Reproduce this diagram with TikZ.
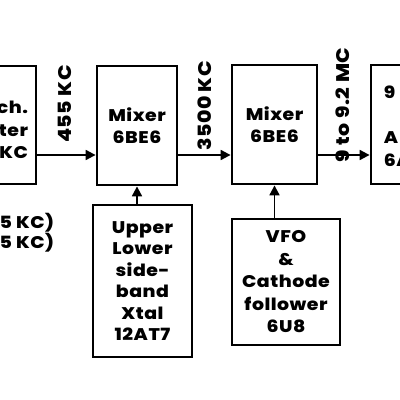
\documentclass[tikz,border=0pt]{standalone}
\usepackage{fontspec}
\setmainfont{Poppins}[BoldFont={Poppins ExtraBold},BoldFeatures={FakeStretch=1.12,LetterSpace=3}]
\usepackage{tikz}
\usetikzlibrary{arrows.meta,positioning}

\begin{document}
\begin{tikzpicture}[x=0.025cm,y=-0.025cm,->,>={Triangle[length=7pt,width=7pt]},line width=1.4pt,
  stage/.style={draw,-,rectangle,line width=2pt,align=center,inner sep=0pt,
    font=\bfseries\fontsize{12}{16}\selectfont},
  freq/.style={rotate=90,inner sep=0pt,font=\bfseries\fontsize{13}{16}\selectfont}]
  \useasboundingbox (0,0) rectangle (400,400);
  % upper chain
  \node[stage,minimum width=1.9cm,minimum height=2.95cm] (filt) at (-2,125) {};
  \node[stage,minimum width=2cm,minimum height=2.975cm] (mixA) at (137,125.5) {Mixer\\6BE6};
  \node[stage,minimum width=2.125cm,minimum height=2.975cm] (mixB) at (274.5,124.5) {Mixer\\6BE6};
  \node[stage,minimum width=1.975cm,minimum height=2.975cm] (amp) at (410.5,124.5) {};
  \node[align=right,anchor=east,inner sep=0pt,font=\bfseries\fontsize{12}{16}\selectfont] (filttxt) at (29,130) {ch.\\ter\\KC};
  \node[align=left,anchor=west,inner sep=0pt,font=\bfseries\fontsize{12}{16}\selectfont] (amptxt) at (383,126) {9\\ \\A\\6A};
  % oscillators
  \node[stage,minimum width=2.475cm,minimum height=3.8cm,font=\bfseries\fontsize{12}{15.3}\selectfont] (xtal) at (142.5,281) {Upper\\Lower\\side-\\band\\Xtal\\12AT7};
  \node[stage,minimum width=2.7cm,minimum height=3.15cm] (vfo) at (286,282) {VFO\\\&\\Cathode\\follower\\6U8};
  \node[align=right,anchor=east,inner sep=0pt,font=\bfseries\fontsize{12}{13}\selectfont] (side) at (55,233) {5 KC)\\5 KC)};
  % frequencies
  \node[freq] (f455) at (65,104) {455 KC};
  \node[freq] (f3500) at (205,106) {3500 KC};
  \node[freq] (f9) at (343,105) {9 to 9.2 MC};
  \coordinate (sig) at (0,155);
  \draw (filt.east |- sig) -- (mixA.west |- sig);
  \draw (mixA.east |- sig) -- (mixB.west |- sig);
  \draw (mixB.east |- sig) -- (amp.west |- sig);
  \draw (xtal.north -| mixA.south) -- (mixA.south);
  \draw (vfo.north -| mixB.south) -- (mixB.south);
\end{tikzpicture}
\end{document}
